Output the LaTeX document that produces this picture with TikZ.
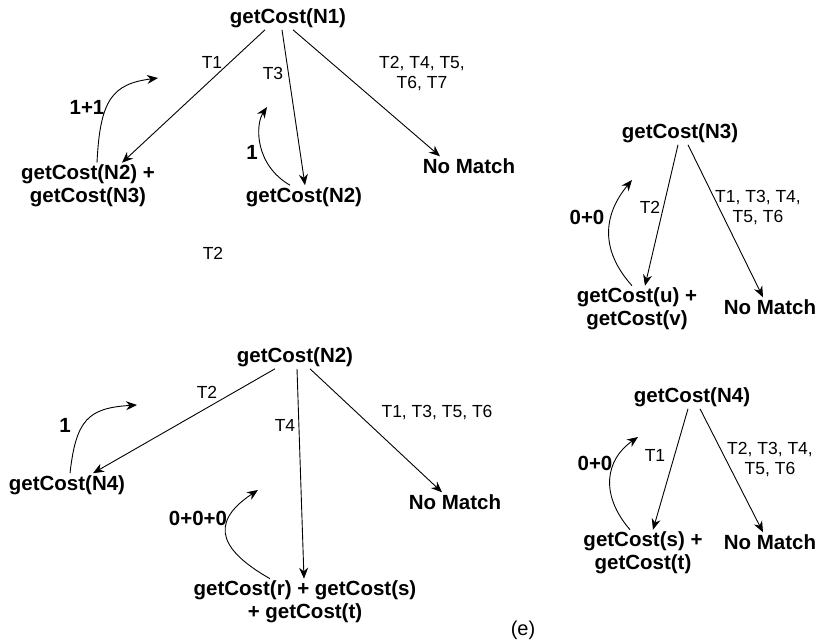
\documentclass[tikz,border=0pt]{standalone}
\usepackage{fontspec}
\setmainfont{Liberation Sans}
\usetikzlibrary{arrows.meta}

\tikzset{
  call/.style={font=\bfseries\fontsize{20.5}{23}\selectfont, align=center, inner sep=2pt},
  case/.style={font=\fontsize{17.5}{20}\selectfont, align=center, inner sep=0pt},
  cost/.style={font=\bfseries\fontsize{20.5}{23}\selectfont, inner sep=0pt},
  edge/.style={-{Stealth[length=11pt,width=9pt]}, line width=0.9pt},
}

\begin{document}
\begin{tikzpicture}[x=1pt, y=-1pt]
  \useasboundingbox (0,0) rectangle (817,643);

  % getCost(N1)
  \node[call] (n1)  at (288,18)  {getCost(N1)};
  \node[call] (n1a) at (88,186)  {getCost(N2) +\\getCost(N3)};
  \node[call] (n1b) at (304,197) {getCost(N2)};
  \node[call] (n1c) at (469,166) {No Match};
  \node[case] (t11) at (212,62)  {T1};
  \node[case] (t13) at (273,73)  {T3};
  \node[case] (t1x) at (422,74)  {T2, T4, T5,\\T6, T7};
  \node[case] (t12) at (213,253) {T2};
  \node[cost] (c11) at (87,107)  {1+1};
  \node[cost] (c12) at (252,152) {1};
  \coordinate (up1) at (158,78);
  \coordinate (up2) at (267,107);

  \draw[edge] ([xshift=-23]n1.south) -- ([xshift=34]n1a.north);
  \draw[edge] ([xshift=-6]n1.south) -- ([xshift=1]n1b.north);
  \draw[edge] ([xshift=5]n1.south) -- ([xshift=-29]n1c.north);
  \draw[edge] ([xshift=9]n1a.north) .. controls (100,100) and (112,84) .. (up1);
  \draw[edge] ([xshift=-14]n1b.north) .. controls (255,165) and (255,125) .. (up2);

  % getCost(N3)
  \node[call] (n3)  at (680,133) {getCost(N3)};
  \node[call] (n3a) at (637,309) {getCost(u) +\\getCost(v)};
  \node[call] (n3b) at (770,307) {No Match};
  \node[case] (t32) at (650,207) {T2};
  \node[case] (t3x) at (758,208) {T1, T3, T4,\\T5, T6};
  \node[cost] (c3)  at (587,217) {0+0};
  \coordinate (up3) at (632,180);

  \draw[edge] ([xshift=-2]n3.south) -- ([xshift=8]n3a.north);
  \draw[edge] ([xshift=8]n3.south) -- ([xshift=-7]n3b.north);
  \draw[edge] ([xshift=-5]n3a.north) .. controls (600,250) and (603,215) .. (up3);

  % getCost(N2)
  \node[call] (n2)  at (295,357) {getCost(N2)};
  \node[call] (n2a) at (67,485)  {getCost(N4)};
  \node[call] (n2b) at (305,602) {getCost(r) + getCost(s)\\+ getCost(t)};
  \node[call] (n2c) at (455,502) {No Match};
  \node[case] (t22) at (207,392) {T2};
  \node[case] (t24) at (285,425) {T4};
  \node[case] (t2x) at (437,413) {T1, T3, T5, T6};
  \node[cost] (c21) at (65,425)  {1};
  \node[cost] (c22) at (198,518) {0+0+0};
  \coordinate (up4) at (137,405);
  \coordinate (up5) at (258,490);

  \draw[edge] ([xshift=-20]n2.south) -- ([xshift=26]n2a.north);
  \draw[edge] ([xshift=2]n2.south) -- ([xshift=-1]n2b.north);
  \draw[edge] ([xshift=15]n2.south) -- ([xshift=-13]n2c.north);
  \draw[edge] ([xshift=3]n2a.north) .. controls (76,420) and (88,408) .. (up4);
  \draw[edge] ([xshift=-35]n2b.north) .. controls (225,553) and (205,525) .. (up5);

  % getCost(N4)
  \node[call] (n4)  at (692,397) {getCost(N4)};
  \node[call] (n4a) at (643,553) {getCost(s) +\\getCost(t)};
  \node[call] (n4b) at (770,542) {No Match};
  \node[case] (t41) at (655,455) {T1};
  \node[case] (t4x) at (770,460) {T2, T3, T4,\\T5, T6};
  \node[cost] (c4)  at (595,463) {0+0};
  \coordinate (up6) at (638,437);

  \draw[edge] ([xshift=-4]n4.south) -- ([xshift=10]n4a.north);
  \draw[edge] ([xshift=8]n4.south) -- ([xshift=-7]n4b.north);
  \draw[edge] ([xshift=-13]n4a.north) .. controls (600,495) and (605,460) .. (up6);

  \node[font=\fontsize{20}{23}\selectfont] (tag) at (523,630) {(e)};
\end{tikzpicture}
\end{document}
